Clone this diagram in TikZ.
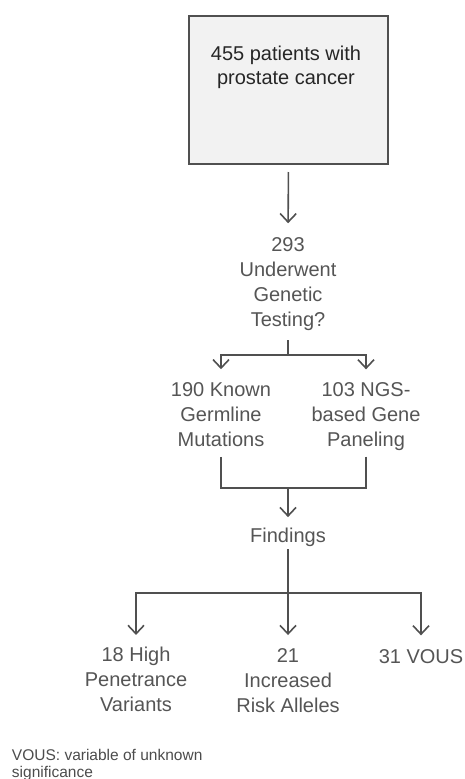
\documentclass[tikz,border=0pt]{standalone}
\usepackage{fontspec}
\setmainfont{Liberation Sans}
\usetikzlibrary{arrows.meta}
\definecolor{linegray}{HTML}{505050}
\definecolor{txtgray}{HTML}{555555}
\definecolor{boxfill}{HTML}{F2F2F2}
\begin{document}
\begin{tikzpicture}[x=1pt,y=-1pt,
  every node/.style={inner sep=0pt, outer sep=0pt},
  startbox/.style={draw=linegray, fill=boxfill, line width=2pt,
    minimum width=199pt, minimum height=148pt},
  label20/.style={text=txtgray, align=center,
    font=\fontsize{20}{25}\selectfont},
  boxtext/.style={text=black!85, align=center,
    font=\fontsize{20}{24}\selectfont},
  note/.style={text=black!70, align=left,
    font=\fontsize{15.5}{17}\selectfont},
  line/.style={draw=linegray, line width=1.6pt},
  arr/.style={line, -{Straight Barb[length=8.5pt,width=16pt,line width=1.6pt]}}]
\useasboundingbox[fill=white] (0,0) rectangle (464,779);

% start box and its text
\node[startbox] (start) at (288.5,90) {};
\node[boxtext] (starttext) at (286,67) {455 patients with\\prostate cancer};

% question
\node[label20] (test) at (288,284.5) {293\\Underwent\\Genetic\\Testing?};

% two testing branches
\node[label20] (gm) at (221,414.7) {190 Known\\Germline\\Mutations};
\node[label20] (ngs) at (366,416.8) {103 NGS-\\based Gene\\Paneling};

% findings
\node[label20, anchor=base] (find) at (288,542) {Findings};

% results
\node[label20] (hp) at (136,679.7) {18 High\\Penetrance\\Variants};
\node[label20] (ra) at (288,680.8) {21\\Increased\\Risk Alleles};
\node[label20, anchor=base] (vous) at (421,663) {31 VOUS};

% footnote
\node[note, anchor=west] (foot) at (12,764.7) {VOUS: variable of unknown\\significance};

% junctions
\coordinate (j1) at (288,355);
\coordinate (j2) at (288,488);
\coordinate (j3) at (288,593);

% connectors
\draw[arr, shorten <=8pt, shorten >=14.7pt] (start.south) -- (test.north);
\draw[line, shorten <=9pt] (test.south) -- (j1);
\draw[arr, shorten >=13.4pt] (j1) -| (gm.north);
\draw[arr, shorten >=13.4pt] (j1) -| (ngs.north);
\draw[line, shorten <=10pt] (gm.south) |- (j2);
\draw[line, shorten <=5.8pt] (ngs.south) |- (j2);
\draw[arr, shorten >=10.4pt] (j2) -- (find.north);
\draw[line, shorten <=3pt] (find.south) -- (j3);
\draw[arr, shorten >=12.4pt] (j3) -| (hp.north);
\draw[arr, shorten >=13.7pt] (j3) -- (ra.north);
\draw[arr, shorten >=13.7pt] (j3) -| (vous.north);
\end{tikzpicture}
\end{document}
